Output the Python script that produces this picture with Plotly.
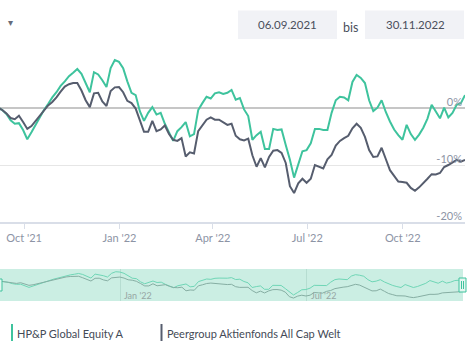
import pandas as pd
import plotly.graph_objects as go

# ---- data ----
start_date = "2021-09-06"
end_date = "2022-11-30"
n_points = 113
dates = pd.date_range(start_date, end_date, periods=n_points)

fund_name = "HP&P Global Equity A"
peer_name = "Peergroup Aktienfonds All Cap Welt"

fund = [0, -0.4, -1.1, -2.2, -2.8, -2.7, -3.9, -5.5, -4.3, -3.0,
        -1.6, -0.4, 0.65, 1.8, 2.7, 3.8, 4.6, 5.5, 6.1, 6.75,
        5.9, 4.3, 2.7, 6.2, 5.8, 4.8, 3.6, 6.9, 8.3, 8.0,
        6.9, 4.6, 2.6, 2.2, -0.6, -2.3, -0.9, 0.1, -1.2, -0.9,
        -2.8, -4.3, -5.8, -4.1, -3.4, -2.5, -5.0, -4.6, -0.4, 0.8,
        1.9, 1.6, 2.5, 2.7, 2.4, 2.6, 3.1, 1.4, 1.7, -0.3,
        -1.45, -5.6, -4.8, -4.2, -7.2, -7.2, -3.7, -3.9, -3.8, -6.5,
        -9.1, -12.2, -10.0, -7.6, -7.4, -6.2, -3.7, -3.7, -3.9, -3.9,
        -0.9, 1.3, 1.9, 1.8, 1.3, 4.5, 5.7, 5.2, 4.3, 1.3,
        -0.6, 0.0, 1.3, -0.75, -2.4, -3.8, -4.8, -5.6, -3.0, -4.6,
        -5.6, -4.7, -3.5, -1.9, 0.5, -0.75, -1.85, 0.0, -1.7, -0.9,
        0.5, 0.8, 2.2]

peer = [0, -0.4, -1.0, -1.8, -2.0, -1.4, -2.5, -3.7, -3.2, -2.3,
        -1.4, -0.4, 0.4, 1.0, 1.8, 2.8, 3.7, 4.1, 4.3, 4.3,
        3.0, 1.3, 0.1, 2.5, 2.6, 1.1, 0.3, 2.9, 3.55, 3.6,
        2.7, 1.2, 0.8, -0.15, -2.1, -4.2, -4.2, -2.3, -4.1, -3.8,
        -3.1, -4.6, -5.6, -5.8, -5.3, -8.5, -7.8, -8.0, -4.1, -3.2,
        -2.1, -1.7, -2.1, -2.1, -2.5, -3.0, -2.8, -4.9, -5.5, -5.7,
        -5.4, -8.3, -10.3, -8.8, -10.4, -8.6, -7.5, -7.4, -7.9, -9.65,
        -13.7, -14.9, -13.2, -12.4, -13.1, -12.4, -10.0, -10.3, -10.6, -9.0,
        -8.25, -6.6, -5.8, -5.3, -4.9, -3.6, -2.8, -3.5, -5.1, -7.4,
        -8.6, -8.5, -7.0, -8.95, -10.9, -11.9, -12.9, -12.95, -13.1, -14.0,
        -14.5, -13.9, -13.2, -12.4, -11.6, -11.65, -11.4, -10.35, -10.0, -9.55,
        -9.1, -9.4, -9.1]

y_ticks = [-20, -10, 0, 10]
y_tick_text = ["-20%", "-10%", "0%", ""]
nav_labels = ["Jan '22", "Jul '22"]
nav_label_dates = ["2022-01-01", "2022-07-01"]
date_from = "06.09.2021"
date_to = "30.11.2022"

# ---- style ----
W, H = 475, 352
GREEN = "#3ec39d"
GRAY = "#565d6e"
NAV_BG = "#cbeee3"
NAV_GREEN = "#6fd6b6"
NAV_GRAY = "#86aea3"
LABEL = "#8d94a5"
FONT = "Lato"


def px_x(p):
    return p / W


def px_y(p):
    return 1 - p / H


fig = go.Figure()
fig.add_trace(go.Scatter(x=dates, y=fund, mode="lines", name=fund_name,
                         line=dict(color=GREEN, width=2), xaxis="x", yaxis="y"))
fig.add_trace(go.Scatter(x=dates, y=peer, mode="lines", name=peer_name,
                         line=dict(color=GRAY, width=2), xaxis="x", yaxis="y"))
fig.add_trace(go.Scatter(x=dates, y=fund, mode="lines", line=dict(color=NAV_GREEN, width=1),
                         xaxis="x2", yaxis="y2"))
fig.add_trace(go.Scatter(x=dates, y=peer, mode="lines", line=dict(color=NAV_GRAY, width=1),
                         xaxis="x2", yaxis="y2"))

main_right = 465
fig.update_layout(
    width=W, height=H,
    margin=dict(l=0, r=0, t=0, b=0),
    paper_bgcolor="white", plot_bgcolor="rgba(0,0,0,0)",
    showlegend=False,
    font=dict(family=FONT, color=LABEL, size=11),
    xaxis=dict(
        domain=[0, px_x(main_right)],
        range=["2021-09-07 20:00", end_date],
        tick0="2021-10-01", dtick="M3", tickformat="%b '%y",
        showgrid=False, zeroline=False,
        showline=True, linecolor="#d9dee8", linewidth=1.5,
        ticks="outside", ticklen=5, tickcolor="#d9dee8",
        tickfont=dict(family=FONT, size=11, color=LABEL),
        anchor="y",
    ),
    yaxis=dict(
        domain=[px_y(222.3), px_y(50.4)],
        range=[-20, 10],
        tickvals=y_ticks, ticktext=y_tick_text,
        side="right", ticklabelposition="inside", ticklabelshift=-6, ticklabelstandoff=0,
        showgrid=True, gridcolor="#e6e6e6", gridwidth=1,
        zeroline=True, zerolinecolor="#c6c6c6", zerolinewidth=2,
        showline=False, ticks="",
        tickfont=dict(family=FONT, size=11, color=LABEL),
        anchor="x",
    ),
    xaxis2=dict(
        domain=[0, px_x(463)],
        range=[start_date, end_date],
        showticklabels=False, ticks="",
        tickvals=nav_label_dates, showgrid=True, gridcolor="#b6ddd1", gridwidth=1,
        zeroline=False, showline=False, anchor="y2",
    ),
    yaxis2=dict(
        domain=[px_y(301), px_y(269)],
        range=[-17.5, 10.7],
        showticklabels=False, showgrid=False, zeroline=False, showline=False, ticks="",
        anchor="x2",
    ),
)

shapes = []
# navigator background
shapes.append(dict(type="rect", xref="paper", yref="paper", layer="below",
                   x0=0, x1=px_x(463), y0=px_y(301), y1=px_y(269),
                   fillcolor=NAV_BG, line=dict(width=0)))
# navigator handles
shapes.append(dict(type="rect", xref="paper", yref="paper",
                   x0=px_x(-3), x1=px_x(2), y0=px_y(291), y1=px_y(279),
                   fillcolor="#e4f6f0", line=dict(color=GREEN, width=1)))
shapes.append(dict(type="rect", xref="paper", yref="paper",
                   x0=px_x(459), x1=px_x(466), y0=px_y(292), y1=px_y(278),
                   fillcolor="#e4f6f0", line=dict(color=GREEN, width=1)))
for hx in (461.5, 463.5):
    shapes.append(dict(type="line", xref="paper", yref="paper",
                       x0=px_x(hx), x1=px_x(hx), y0=px_y(289), y1=px_y(281),
                       line=dict(color=GREEN, width=1)))
# date boxes
shapes.append(dict(type="rect", xref="paper", yref="paper", layer="below",
                   x0=px_x(238), x1=px_x(337), y0=px_y(39), y1=px_y(10.5),
                   fillcolor="#f1f2f6", line=dict(width=0)))
shapes.append(dict(type="rect", xref="paper", yref="paper", layer="below",
                   x0=px_x(365), x1=px_x(464), y0=px_y(39), y1=px_y(10.5),
                   fillcolor="#f1f2f6", line=dict(width=0)))
# legend bars
shapes.append(dict(type="line", xref="paper", yref="paper",
                   x0=px_x(12), x1=px_x(12), y0=px_y(341), y1=px_y(324),
                   line=dict(color=GREEN, width=2)))
shapes.append(dict(type="line", xref="paper", yref="paper",
                   x0=px_x(161.5), x1=px_x(161.5), y0=px_y(341), y1=px_y(324),
                   line=dict(color=GRAY, width=2)))
fig.update_layout(shapes=shapes)

ann = []


def add_text(text, x, y, size, color, xanchor="center", xref="paper", family=FONT, xshift=0):
    ann.append(dict(text=text, x=x, y=y, xref=xref, yref="paper",
                    xanchor=xanchor, yanchor="middle", xshift=xshift, showarrow=False,
                    font=dict(size=size, color=color, family=family)))


add_text("▾", px_x(10), px_y(23), 10, "#666c7a", family="DejaVu Sans")
add_text(date_from, px_x(287.5), px_y(24.5), 11.5, "#4a4f5c")
add_text("bis", px_x(350.5), px_y(27.5), 12.5, "#4a4f5c")
add_text(date_to, px_x(415), px_y(24.5), 11.5, "#4a4f5c")
for lab, d in zip(nav_labels, nav_label_dates):
    add_text(lab, d, px_y(295.5), 9, "#97a6a3", xanchor="left", xref="x2", xshift=2)
add_text(fund_name, px_x(15), px_y(333), 11, "#444a56", xanchor="left")
add_text(peer_name, px_x(165), px_y(333), 11, "#444a56", xanchor="left")
fig.update_layout(annotations=ann)

fig.write_html("out.html")
